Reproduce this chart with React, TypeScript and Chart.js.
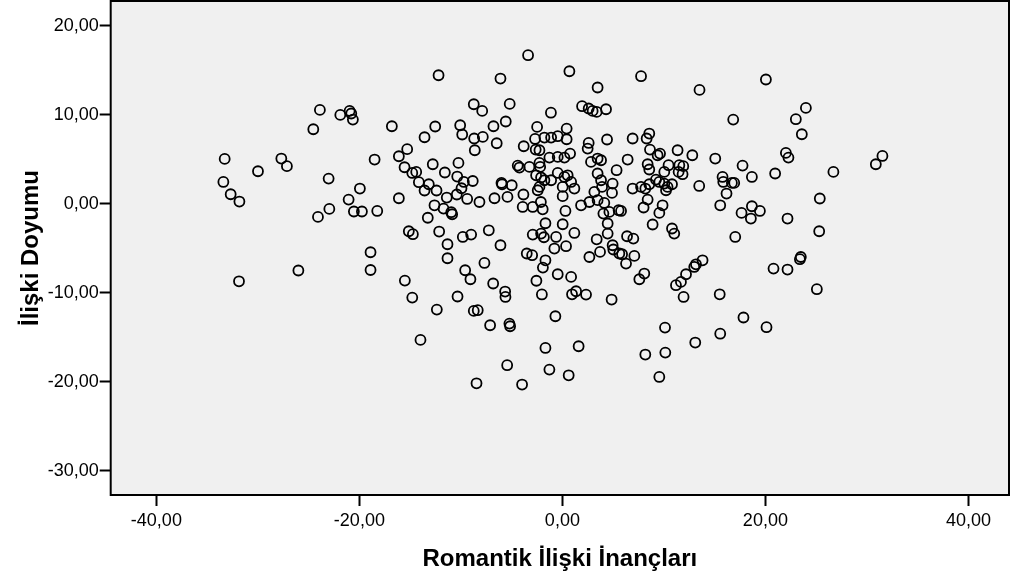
import React, { useEffect, useRef } from "react";
import { Chart, registerables } from "chart.js";

Chart.register(...registerables);

// Tick values of both axes
const xTickValues = [-40, -20, 0, 20, 40];
const yTickValues = [-30, -20, -10, 0, 10, 20];

// Axis ranges
const xRange = [-44.5, 44.0];
const yRange = [-32.7, 22.8];

// Romantik İlişki İnançları (x)
const romantikInanclar = [
  -23.89, -21.88, -20.96, -20.8, -20.64, -24.54, -33.27, -29.99, -27.69, -27.14,
  -33.4, -32.68, -31.82, -23.03, -19.95, -21.06, -22.96, -24.08, -20.54, -19.75,
  -18.24, -18.5, -18.9, -18.9, -26.01, -31.86, -3.38, -12.2, -6.1, -8.73,
  -7.9, -5.19, -1.13, -16.8, -12.53, -13.58, -10.07, -9.87, -8.69, -7.84,
  -6.79, -5.58, -6.47, -8.63, -2.49, -2.69, -1.77, -1.11, -0.46, -3.81,
  -2.63, -15.29, -16.11, -15.55, -14.79, -14.4, -12.77, -11.58, -10.24, -14.14,
  -13.16, -13.58, -12.4, -10.36, -9.71, -9.94, -8.83, -10.4, -11.39, -9.38,
  -8.17, -6.69, -5.41, -6.0, -5.94, -4.99, -3.84, -4.4, -4.23, -3.25,
  -2.26, -2.19, -1.28, -2.59, -2.1, -1.77, -2.26, -2.43, -2.12, -1.94,
  -3.91, -2.92, -16.11, -12.6, -11.71, -10.95, -10.86, -13.26, -1.67, -15.13,
  -14.73, -12.14, -11.32, -11.32, -9.81, -8.99, -7.25, -6.1, -7.68, -9.58,
  -9.06, -6.82, -5.64, -5.61, -15.52, -14.79, -12.37, -10.33, -8.73, -8.34,
  -7.12, -5.22, -5.15, -13.98, -5.44, -8.46, -3.97, -2.92, -2.1, -1.82,
  -3.51, -2.98, -1.67, -1.92, -2.56, -2.02, -1.67, -1.28, 0.69, 7.75,
  13.51, 3.47, 1.94, 2.59, 2.98, 3.38, 4.3, 0.42, 0.42, 4.4,
  2.59, 2.49, 6.92, 8.56, 8.3, 11.35, 12.8, 15.06, 8.63, 9.38,
  9.62, -2.26, -0.46, 0.2, 0.76, 6.43, 2.82, 3.47, 3.81, 5.34,
  3.47, 8.4, 8.56, 10.46, 10.04, 11.52, 11.91, 11.45, 11.84, -0.46,
  -1.11, 0.2, 0.52, 0.86, 1.18, 0.03, 0.03, 3.81, 3.91, 4.95,
  4.89, 3.15, 3.47, 2.66, 1.84, 4.13, 4.04, 4.63, 5.54, 5.78,
  6.92, 7.75, 8.17, 8.56, 9.22, 9.55, 10.04, 10.36, 10.21, 10.8,
  13.48, 8.4, 8.0, 9.87, 9.55, 0.3, 0.03, 1.18, -0.62, -0.79,
  0.36, -0.46, 0.86, 0.95, 1.35, 2.33, 4.85, -0.69, 1.6, 0.62,
  4.46, 4.46, 3.38, 3.71, 2.66, 4.95, 5.02, 5.61, 5.88, 6.27,
  7.09, 6.37, 6.99, 8.89, 10.8, 11.02, 8.07, 7.58, 13.81, 13.16,
  12.99, 12.18, 11.68, 11.19, 11.94, 15.5, 10.11, 13.09, 8.17, 10.14,
  9.55, 15.55, 20.05, 16.83, 23.99, 23.0, 23.59, 22.02, 22.27, 17.75,
  18.67, 20.96, 26.7, 31.53, 30.88, 15.78, 15.85, 16.7, 16.93, 16.17,
  15.55, 17.65, 18.67, 19.46, 18.57, 22.18, 25.36, 25.3, 17.03, 23.49,
  23.4, 20.8, 22.18, 25.07, 17.84, 20.11,
];

// İlişki Doyumu (y)
const iliskiDoyumu = [
  10.56, 10.0, 10.45, 10.16, 9.48, 8.39, 5.06, 3.67, 5.1, 4.24,
  2.47, 1.09, 0.27, 2.85, 1.73, 0.49, -0.56, -1.46, -0.85, -0.85,
  -0.79, 4.99, -5.43, -7.42, -7.48, -8.69, 16.71, 14.46, 14.09, 11.2,
  10.45, 11.24, 10.25, 8.73, 8.7, 7.49, 8.84, 7.8, 7.35, 7.53,
  8.73, 9.26, 6.82, 6.03, 8.65, 7.3, 7.46, 7.46, 7.61, 6.48,
  6.11, 6.15, 5.36, 4.12, 3.48, 3.6, 4.46, 3.53, 4.61, 2.44,
  2.21, 1.51, 1.51, 3.08, 2.47, 1.76, 2.58, 1.06, 0.72, 0.56,
  0.22, 0.64, 0.79, 2.36, 2.21, 2.1, 1.06, 4.31, 4.09, 4.16,
  4.61, 4.16, 5.21, 3.22, 2.97, 2.66, 1.91, 1.54, 0.22, -0.6,
  -0.34, -0.34, 0.64, -0.15, -0.52, -0.93, -1.16, -1.55, -2.17, -3.07,
  -3.4, -3.1, -4.53, -6.1, -3.71, -3.44, -2.96, -4.64, -6.63, -7.45,
  -8.46, -8.94, -9.84, -10.45, -8.61, -10.52, -11.87, -10.4, -12.02, -11.94,
  -13.63, -13.44, -13.74, -15.28, -18.12, -20.15, -20.29, -3.44, -3.33, -3.74,
  -5.57, -5.76, -6.33, -7.15, -8.63, -10.17, -16.18, -18.61, 14.91, 14.35,
  12.81, 13.08, 10.98, 10.72, 10.45, 10.34, 10.64, 8.47, 7.27, 7.24,
  6.85, 6.22, 7.35, 7.91, 7.35, 6.03, 5.47, 5.1, 6.11, 5.47,
  5.66, 6.03, 5.28, 5.21, 5.66, 4.99, 4.72, 5.1, 4.91, 3.79,
  3.42, 4.46, 3.87, 4.35, 3.6, 4.35, 4.24, 3.6, 3.34, 3.48,
  2.66, 3.03, 3.22, 2.47, 1.73, 1.91, 0.87, 2.66, 1.91, 2.29,
  1.24, 1.35, 0.42, 0.22, -0.15, 0.11, -1.08, -0.9, -0.71, -0.79,
  1.73, 1.91, 1.73, 2.21, 2.74, 2.47, 2.29, 1.91, 1.54, 2.21,
  2.02, 0.49, -0.4, -0.15, -1.01, -0.79, -2.28, -3.26, -3.71, -5.01,
  -4.75, -7.9, -8.2, -10.15, -9.81, -10.18, -10.74, -12.62, -15.99, -19.25,
  -2.2, -3.33, -3.97, -5.39, -5.96, -4.64, -5.12, -5.57, -5.65, -6.7,
  -5.84, -3.63, -3.89, -2.31, -2.76, -3.33, -7.82, -8.46, -6.33, -6.78,
  -7.08, -7.9, -8.76, -9.13, -10.45, -10.15, -13.89, -15.57, -16.92, -16.7,
  -19.44, -14.58, 13.98, 9.48, 10.79, 9.52, 7.83, 5.73, 5.21, 4.31,
  3.03, 3.42, 3.6, 5.39, 4.46, 3.03, 2.47, 2.36, 2.36, 1.17,
  -0.15, -1.01, -0.26, -0.79, -1.64, -1.64, 0.61, -3.07, -3.71, -5.96,
  -6.21, -7.26, -7.37, -9.58, -12.76, -13.85,
];

const FONT = "Arial, 'Liberation Sans', sans-serif";
const fmt = (v: number) => v.toFixed(2).replace(".", ",");

const framePlugin = {
  id: "spssFrame",
  beforeDatasetsDraw(chart: any) {
    const { ctx, chartArea } = chart;
    const { left, top, right, bottom } = chartArea;
    ctx.save();
    ctx.fillStyle = "#f0f0f0";
    ctx.fillRect(left, top, right - left, bottom - top);
    ctx.restore();
  },
  afterDraw(chart: any) {
    const { ctx, chartArea } = chart;
    const { left, top, right, bottom } = chartArea;
    ctx.save();
    ctx.strokeStyle = "#000";
    ctx.lineWidth = 2;
    ctx.strokeRect(left, top, right - left, bottom - top);
    ctx.restore();
  },
};

export default function App() {
  const canvasRef = useRef<HTMLCanvasElement | null>(null);

  useEffect(() => {
    const canvas = canvasRef.current;
    if (!canvas) return;
    const points = romantikInanclar.map((x, i) => ({ x, y: iliskiDoyumu[i] }));
    const chart = new Chart(canvas, {
      type: "scatter",
      data: {
        datasets: [
          {
            data: points,
            pointStyle: "circle",
            pointRadius: 5,
            pointHoverRadius: 5,
            borderWidth: 1.8,
            borderColor: "#000",
            backgroundColor: "rgba(0,0,0,0)",
          },
        ],
      },
      options: {
        responsive: false,
        animation: false,
        devicePixelRatio: 1,
        layout: { autoPadding: false, padding: { top: 1, right: 3, bottom: 0, left: 0 } },
        plugins: {
          legend: { display: false },
          tooltip: { enabled: false },
        },
        scales: {
          x: {
            type: "linear",
            position: "bottom",
            min: xRange[0],
            max: xRange[1],
            afterFit: (s: any) => {
              s.height = 87;
              s.paddingLeft = 0;
              s.paddingRight = 0;
            },
            afterBuildTicks: (s: any) => {
              s.ticks = xTickValues.map((v) => ({ value: v }));
            },
            ticks: {
              callback: (v: any) => fmt(Number(v)),
              color: "#000",
              font: { family: FONT, size: 18 },
              padding: 4,
              maxRotation: 0,
              autoSkip: false,
            },
            grid: {
              display: true,
              drawOnChartArea: false,
              drawTicks: true,
              tickLength: 11,
              tickColor: "#000",
              tickWidth: 2,
            },
            border: { display: false },
            title: {
              display: true,
              text: "Romantik İlişki İnançları",
              color: "#000",
              font: { family: FONT, size: 24, weight: "bold" },
              padding: { top: 0, bottom: 8 },
            },
          },
          y: {
            type: "linear",
            min: yRange[0],
            max: yRange[1],
            afterFit: (s: any) => {
              s.width = 110.7;
              s.paddingTop = 0;
              s.paddingBottom = 0;
            },
            afterBuildTicks: (s: any) => {
              s.ticks = yTickValues.map((v) => ({ value: v }));
            },
            ticks: {
              callback: (v: any) => fmt(Number(v)),
              color: "#000",
              font: { family: FONT, size: 18 },
              padding: 1,
              autoSkip: false,
            },
            grid: {
              display: true,
              drawOnChartArea: false,
              drawTicks: true,
              tickLength: 11,
              tickColor: "#000",
              tickWidth: 2,
            },
            border: { display: false },
            title: {
              display: true,
              text: "İlişki Doyumu",
              color: "#000",
              font: { family: FONT, size: 24, weight: "bold" },
              padding: { top: 17, bottom: 0 },
            },
          },
        },
      },
      plugins: [framePlugin],
    });
    return () => chart.destroy();
  }, []);

  return (
    <div style={{ position: "absolute", left: 0, top: 0, width: 1012, height: 582, background: "#fff" }}>
      <canvas ref={canvasRef} width={1012} height={582} />
    </div>
  );
}
